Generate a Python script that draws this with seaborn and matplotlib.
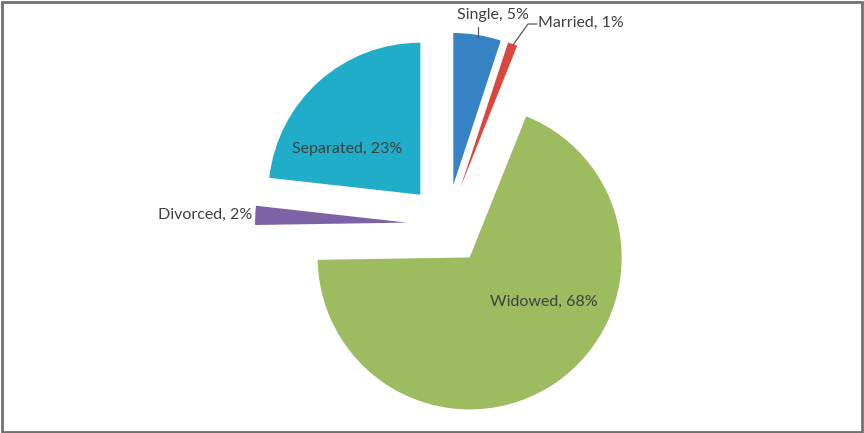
import matplotlib
matplotlib.use("Agg")
import matplotlib.pyplot as plt
import seaborn as sns
from matplotlib.patches import Rectangle

sns.set_theme(style="white")
plt.rcParams["font.family"] = ["Lato", "DejaVu Sans"]

# Marital status shares (percent)
categories = ["Single", "Married", "Widowed", "Divorced", "Separated"]
shares = [5, 1, 68, 2, 23]
colors = ["#3582C4", "#D9473F", "#9DBB5F", "#7D62A6", "#1FADCA"]

W, H, DPI = 864, 433, 100
fig = plt.figure(figsize=(W / DPI, H / DPI), dpi=DPI)
ax = fig.add_axes([0, 0, 1, 1])

ax.pie(shares, colors=colors, startangle=90, counterclock=False,
       explode=[0.263] * len(shares), radius=1.0,
       wedgeprops=dict(linewidth=0))

# pie centre and radius in pixels
cx, cy, rpx = 447, 224.5, 152
ax.set_xlim(-cx / rpx, (W - cx) / rpx)
ax.set_ylim(-(H - cy) / rpx, cy / rpx)
ax.set_aspect("equal", adjustable="box")
ax.axis("off")

txt = "#404040"
fs = 11.5
labels = [f"{c}, {v}%" for c, v in zip(categories, shares)]
lab = dict(zip(categories, labels))

ax.text(0.299, 1.378, lab["Single"], ha="center", va="center", color=txt, fontsize=fs)
ax.text(0.599, 1.326, lab["Married"], ha="left", va="center", color=txt, fontsize=fs)
ax.text(0.635, -0.510, lab["Widowed"], ha="center", va="center", color=txt, fontsize=fs)
ax.text(-1.283, 0.0625, lab["Divorced"], ha="right", va="center", color=txt, fontsize=fs)
ax.text(-0.658, 0.497, lab["Separated"], ha="center", va="center", color=txt, fontsize=fs)

# leader lines
lc = "#595959"
ax.plot([0.204, 0.204], [1.301, 1.234], color=lc, lw=0.9)
ax.plot([0.592, 0.533, 0.434], [1.319, 1.319, 1.181], color=lc, lw=0.9)

# chart frame
fig.patches.append(Rectangle((2 / W, 1 / H), (W - 4) / W, (H - 3) / H,
                             transform=fig.transFigure, fill=False,
                             edgecolor="#707070", linewidth=2))

fig.savefig("out.png", dpi=DPI, facecolor="white")
